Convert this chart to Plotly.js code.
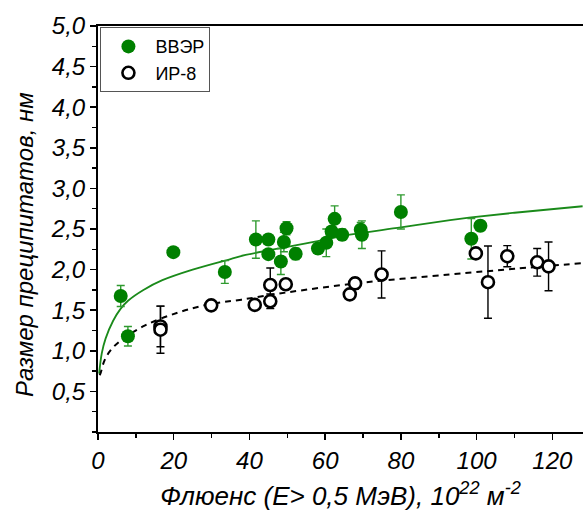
<!DOCTYPE html>
<html>
<head>
<meta charset="utf-8">
<script src="https://cdn.plot.ly/plotly-3.0.1.min.js"></script>
<style>html,body{margin:0;padding:0;background:#fff;}#chart{width:583px;height:511px;}</style>
</head>
<body>
<div id="chart"></div>
<script>
// ВВЭР data
const vverX = [6.0, 7.9, 19.9, 33.5, 41.7, 45.0, 45.0, 48.3, 49.1, 49.8, 52.2, 58.1, 60.3, 61.7, 62.5, 64.5, 69.4, 69.7, 80.0, 98.6, 101.0];
const vverY = [1.675, 1.18, 2.215, 1.97, 2.37, 2.37, 2.19, 2.10, 2.34, 2.51, 2.195, 2.26, 2.33, 2.47, 2.625, 2.43, 2.49, 2.43, 2.71, 2.38, 2.54];
const vverErr = [0.13, 0.12, 0.04, 0.14, 0.23, 0.05, 0.05, 0.16, 0.12, 0.08, 0.07, 0.06, 0.17, 0.05, 0.16, 0.07, 0.09, 0.17, 0.21, 0.25, 0.06];
// ИР-8 data
const ir8X = [16.5, 16.5, 29.9, 41.4, 45.5, 45.5, 49.6, 66.5, 67.9, 74.9, 99.8, 103.0, 108.1, 116.0, 119.0];
const ir8Y = [1.30, 1.26, 1.56, 1.565, 1.81, 1.61, 1.82, 1.695, 1.83, 1.94, 2.20, 1.845, 2.165, 2.09, 2.04];
const ir8Err = [0.25, 0.29, 0.03, 0.03, 0.21, 0.09, 0.04, 0.05, 0.07, 0.29, 0.05, 0.445, 0.13, 0.17, 0.30];
// fitted curves
const vverFitX = [0.3, 1, 2, 4, 6, 8, 12, 17, 25, 35, 39, 50, 58, 66.5, 80, 93, 98, 110, 128];
const vverFitY = [0.72, 0.97, 1.15, 1.37, 1.52, 1.62, 1.75, 1.87, 2.0, 2.13, 2.18, 2.28, 2.35, 2.43, 2.52, 2.61, 2.64, 2.70, 2.78];
const ir8FitX = [0.4, 0.63, 1.7, 3.4, 6.1, 12.3, 21.1, 29.1, 37.9, 50, 70, 93, 110, 128];
const ir8FitY = [0.70, 0.72, 0.88, 1.01, 1.13, 1.31, 1.47, 1.57, 1.63, 1.72, 1.84, 1.94, 2.01, 2.08];
// axis ticks
const yTicks = [0.5, 1.0, 1.5, 2.0, 2.5, 3.0, 3.5, 4.0, 4.5, 5.0];
const xTicks = [0, 20, 40, 60, 80, 100, 120];

const FAM = 'Liberation Sans, Arial, sans-serif';
const tickFont = {family: FAM, size: 24, color: '#000', style: 'italic'};

const traces = [
  {x: vverFitX, y: vverFitY, mode: 'lines', line: {color: '#1a8a1a', width: 1.8, shape: 'spline'}, showlegend: false, hoverinfo: 'skip'},
  {x: ir8FitX, y: ir8FitY, mode: 'lines', line: {color: '#000', width: 2, dash: '6px,5px', shape: 'spline'}, showlegend: false, hoverinfo: 'skip'},
  {x: vverX, y: vverY, mode: 'markers', name: 'ВВЭР', legendgroup: 'a',
   marker: {color: '#008000', size: 14, line: {width: 0}},
   error_y: {type: 'data', array: vverErr, visible: true, color: '#2f9a2f', thickness: 1.4, width: 4}},
  {x: ir8X, y: ir8Y, mode: 'markers', name: 'ИР-8', legendgroup: 'b',
   marker: {color: '#fff', size: 12, symbol: 'circle', line: {width: 2.6, color: '#000'}},
   error_y: {type: 'data', array: ir8Err, visible: true, color: '#000', thickness: 1.4, width: 4}}
];

const layout = {
  width: 583, height: 511,
  margin: {l: 98, r: 0, t: 26, b: 79},
  paper_bgcolor: '#fff', plot_bgcolor: '#fff',
  separators: ', ',
  showlegend: true,
  legend: {x: 0.005, y: 0.997, xanchor: 'left', yanchor: 'top', bgcolor: 'rgba(255,255,255,0)',
    bordercolor: '#555', borderwidth: 1, font: {family: FAM, size: 18, color: '#000'},
    tracegroupgap: 0, itemwidth: 44},
  xaxis: {
    range: [0, 128.1], tickmode: 'array', tickvals: xTicks, ticktext: xTicks.map(String),
    ticks: 'outside', ticklen: 6, tickwidth: 1.5, tickcolor: '#000',
    minor: {tickmode: 'linear', tick0: 0, dtick: 10, ticks: 'outside', ticklen: 4, tickwidth: 1.5, tickcolor: '#000', showgrid: false},
    showline: true, linecolor: '#000', linewidth: 2, mirror: true,
    showgrid: false, zeroline: false, tickfont: tickFont,
    title: {text: 'Флюенс (E> 0,5 МэВ), 10<sup>22</sup> м<sup>-2</sup>', font: {family: FAM, size: 26, color: '#000', style: 'italic'}, standoff: 23},
    automargin: false
  },
  yaxis: {
    range: [0, 5], tickmode: 'array', tickvals: yTicks, ticktext: yTicks.map(v => v.toFixed(1).replace('.', ',')),
    ticks: 'outside', ticklen: 6, tickwidth: 1.5, tickcolor: '#000',
    minor: {tickmode: 'linear', tick0: 0, dtick: 0.25, ticks: 'outside', ticklen: 4, tickwidth: 1.5, tickcolor: '#000', showgrid: false},
    showline: true, linecolor: '#000', linewidth: 2, mirror: false,
    showgrid: false, zeroline: false, tickfont: tickFont,
    automargin: false
  },
  annotations: [
    {text: 'Размер преципитатов, нм', xref: 'paper', yref: 'paper', x: -0.1505, y: 0.4606,
     xanchor: 'center', yanchor: 'middle', textangle: -90, showarrow: false,
     font: {family: FAM, size: 24, color: '#000', style: 'italic'}}
  ]
};

Plotly.newPlot('chart', traces, layout, {displayModeBar: false, staticPlot: true});
</script>
</body>
</html>
